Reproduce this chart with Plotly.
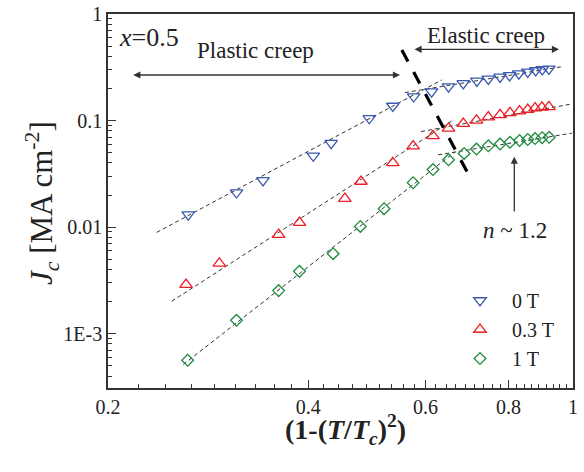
import plotly.graph_objects as go
import math

# ---------------- data ----------------
x_0T = [0.264, 0.312, 0.342, 0.407, 0.433, 0.494, 0.536, 0.576, 0.613, 0.650,
        0.684, 0.717, 0.746, 0.777, 0.803, 0.829, 0.855, 0.879, 0.899, 0.920]
jc_0T = [0.0131, 0.0211, 0.0274, 0.0467, 0.0614, 0.105, 0.137, 0.168, 0.187, 0.208,
         0.223, 0.236, 0.246, 0.257, 0.265, 0.276, 0.286, 0.295, 0.302, 0.305]

x_03T = [0.262, 0.294, 0.361, 0.388, 0.454, 0.480, 0.536, 0.575, 0.616, 0.650,
         0.684, 0.716, 0.746, 0.777, 0.804, 0.831, 0.855, 0.877, 0.898, 0.920]
jc_03T = [0.00289, 0.00457, 0.00849, 0.0110, 0.0185, 0.0268, 0.0401, 0.0576, 0.0719, 0.0845,
          0.0937, 0.1004, 0.1076, 0.1131, 0.1181, 0.1225, 0.1268, 0.1307, 0.1330, 0.1344]

x_1T = [0.2635, 0.312, 0.361, 0.388, 0.436, 0.479, 0.520, 0.575, 0.616, 0.650,
        0.686, 0.716, 0.746, 0.777, 0.804, 0.831, 0.855, 0.877, 0.899, 0.921]
jc_1T = [0.000563, 0.001335, 0.002535, 0.003843, 0.005631, 0.01015, 0.01488, 0.02607, 0.0347, 0.0428,
         0.0491, 0.0540, 0.0579, 0.0602, 0.0625, 0.0650, 0.0664, 0.0677, 0.0691, 0.0696]

# power-law fit segments (end points)
fit_0T_plastic = ([0.2367, 0.635], [0.00892, 0.2406])
fit_0T_elastic = ([0.559, 0.967], [0.183, 0.322])
fit_03T_plastic = ([0.2493, 0.661], [0.002012, 0.1015])
fit_03T_elastic = ([0.591, 0.997], [0.0788, 0.1434])
fit_1T_plastic = ([0.2595, 0.665], [0.000513, 0.0509])
fit_1T_elastic = ([0.627, 0.997], [0.0477, 0.0762])

# crossover boundary line
boundary_x = [0.553, 0.693]
boundary_y = [0.460, 0.0331]

series_names = ["0 T", "0.3 T", "1 T"]
x_ticks = [0.2, 0.4, 0.6, 0.8, 1]
x_ticktext = ["0.2", "0.4", "0.6", "0.8", "1"]
y_ticks = [0.001, 0.01, 0.1, 1]
y_ticktext = ["1E-3", "0.01", "0.1", "1"]

# ---------------- figure ----------------
FONT = "Liberation Serif, Times New Roman, DejaVu Serif, serif"
BLUE = "#3a58b0"
RED = "#ee1c24"
GREEN = "#1e8c3c"

fig = go.Figure()

for (fx, fy) in [fit_0T_plastic, fit_0T_elastic, fit_03T_plastic, fit_03T_elastic,
                 fit_1T_plastic, fit_1T_elastic]:
    fig.add_trace(go.Scatter(x=fx, y=fy, mode="lines", showlegend=False,
                             line=dict(color="#333333", width=1, dash="4px,3px"),
                             hoverinfo="skip"))

fig.add_trace(go.Scatter(x=boundary_x, y=boundary_y, mode="lines", showlegend=False,
                         line=dict(color="black", width=3.2, dash="13px,12px")))

fig.add_trace(go.Scatter(x=x_0T, y=jc_0T, mode="markers", name=series_names[0],
                         marker=dict(symbol="triangle-down-open", size=11,
                                     color=BLUE, line=dict(width=1.3, color=BLUE))))
fig.add_trace(go.Scatter(x=x_03T, y=jc_03T, mode="markers", name=series_names[1],
                         marker=dict(symbol="triangle-up-open", size=11,
                                     color=RED, line=dict(width=1.3, color=RED))))
fig.add_trace(go.Scatter(x=x_1T, y=jc_1T, mode="markers", name=series_names[2],
                         marker=dict(symbol="diamond-open", size=9,
                                     color=GREEN, line=dict(width=1.3, color=GREEN))))

x_minor = [round(0.2 + k * 0.2 / 9, 5) for k in range(1, 36) if k % 9 != 0]
y_minor = []
for d in range(-4, 0):
    for k in range(2, 10):
        v = k * 10 ** d
        if v > 3.1e-4:
            y_minor.append(v)

axis_common = dict(showline=True, linecolor="#333333", linewidth=1.5, mirror=True,
                   showgrid=False, zeroline=False, ticks="inside", ticklen=8,
                   tickwidth=1.3, tickcolor="#333333", automargin=False,
                   tickfont=dict(family=FONT, size=20, color="#222222"))

fig.update_xaxes(type="log", range=[math.log10(0.2), 0], tickmode="array",
                 tickvals=x_ticks, ticktext=x_ticktext,
                 minor=dict(ticks="inside", ticklen=4, tickwidth=1.1, tickcolor="#333333",
                            tickmode="array", tickvals=x_minor),
                 **axis_common)
fig.update_yaxes(type="log", range=[-3.51, 0], tickmode="array",
                 tickvals=y_ticks, ticktext=y_ticktext,
                 minor=dict(ticks="inside", ticklen=4, tickwidth=1.1, tickcolor="#333333",
                            tickmode="array", tickvals=y_minor),
                 **axis_common)

W, H = 584, 472
L, R, T, B = 108, 11, 14, 84
pw, ph = W - L - R, H - T - B


def px(xp):
    return (xp - L) / pw


def py(yp):
    return (H - B - yp) / ph


def label(xp, yp, text, size, **kw):
    d = dict(x=px(xp), y=py(yp), xref="paper", yref="paper", showarrow=False,
             xanchor="center", yanchor="middle", text=text,
             font=dict(family=FONT, size=size, color="#222"))
    d.update(kw)
    return d


def arrow(x_head, y_head, x_tail, y_tail, both=False):
    return dict(x=px(x_head), y=py(y_head), xref="paper", yref="paper",
                ax=x_tail - x_head, ay=y_tail - y_head,
                text="", showarrow=True, arrowside="end+start" if both else "end",
                arrowhead=2, arrowsize=1.1, arrowwidth=1.3, arrowcolor="#333",
                standoff=0, startstandoff=0)


ann = [
    label(149, 37, "<i>x</i>=0.5", 26),
    label(255, 51, "Plastic creep", 23),
    label(486, 35, "Elastic creep", 23),
    label(515, 230, "<i>n</i> ~ 1.2", 23),
    arrow(400, 75, 131.7, 75, both=True),
    arrow(559, 49.3, 413, 49.3, both=True),
    arrow(514.3, 156.7, 514.3, 213),
    label(42, 203, "<i>J</i><sub><i>c</i></sub> [MA cm<sup>-2</sup>]", 31, textangle=-90),
    label(345, 429, "<b>(1-(<i>T</i>/<i>T</i><sub><i>c</i></sub>)<sup>2</sup>)</b>", 28),
]

fig.update_layout(
    width=W, height=H,
    margin=dict(l=L, r=R, t=T, b=B, autoexpand=False),
    paper_bgcolor="white", plot_bgcolor="white",
    annotations=ann,
    legend=dict(x=px(448), y=py(281), xanchor="left", yanchor="top",
                bgcolor="rgba(0,0,0,0)", font=dict(family=FONT, size=20, color="#222"),
                tracegroupgap=0, itemwidth=54),
)

fig.write_html("out.html", config={"displayModeBar": False},
               post_script="document.body.style.margin='0px';")
